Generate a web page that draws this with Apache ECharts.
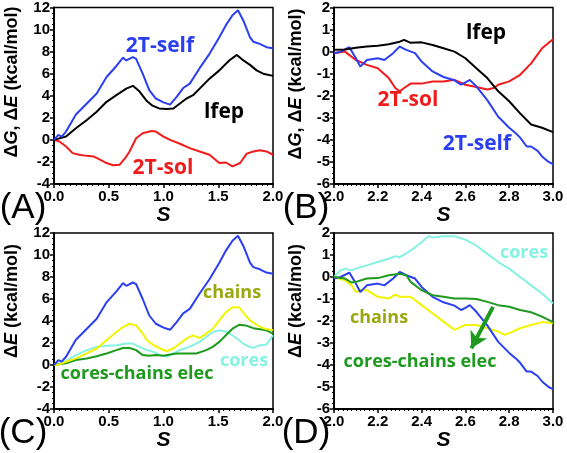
<!DOCTYPE html>
<html><head><meta charset="utf-8">
<script src="https://cdn.jsdelivr.net/npm/echarts@6/dist/echarts.min.js"></script>
<style>html,body{margin:0;padding:0;background:#fff}#c{width:567px;height:453px}</style>
</head><body><div id="c"></div>
<script>
// ---------- DATA ----------
// Panel A / C : s from 0 to 2
var sSelfA = [0,0.04,0.07,0.11,0.2,0.3,0.39,0.48,0.57,0.63,0.66,0.72,0.75,0.81,0.87,0.93,1.0,1.06,1.12,1.18,1.24,1.33,1.42,1.51,1.57,1.63,1.68,1.73,1.79,1.82,1.88,1.94,2.0];
var vSelfA = [0,0.45,0.3,0.75,2.3,3.3,4.2,5.7,6.7,7.45,7.2,7.5,7.35,6.0,4.5,3.75,3.4,3.2,3.9,4.7,5.1,6.5,7.8,9.3,10.4,11.3,11.75,10.8,9.3,8.9,8.7,8.4,8.3];
var sLfepA = [0,0.11,0.2,0.3,0.39,0.48,0.57,0.66,0.72,0.78,0.85,0.9,0.96,1.03,1.09,1.15,1.21,1.27,1.33,1.42,1.51,1.6,1.67,1.73,1.79,1.85,1.91,2.0];
var vLfepA = [0,0.3,1.05,1.8,2.55,3.45,4.05,4.65,4.9,4.4,3.5,3.1,2.85,2.8,2.85,3.3,3.75,4.05,4.65,5.55,6.3,7.2,7.7,7.2,6.8,6.3,6.0,5.8];
var sSolA = [0,0.05,0.11,0.17,0.23,0.3,0.36,0.42,0.48,0.54,0.6,0.65,0.69,0.75,0.81,0.89,0.93,1.0,1.06,1.15,1.24,1.33,1.42,1.51,1.57,1.63,1.7,1.76,1.82,1.88,1.94,2.0];
var vSolA = [0,-0.15,-0.6,-1.2,-1.35,-1.45,-1.5,-1.8,-2.1,-2.3,-2.25,-1.65,-1.05,0.15,0.6,0.8,0.75,0.3,0,-0.35,-0.75,-1.05,-1.35,-2.1,-2.05,-2.4,-2.1,-1.25,-1.05,-0.95,-1.05,-1.35];
var sChainsC = [0,0.05,0.11,0.2,0.3,0.39,0.48,0.57,0.63,0.69,0.75,0.8,0.85,0.91,0.97,1.03,1.09,1.15,1.21,1.27,1.33,1.39,1.45,1.51,1.57,1.63,1.69,1.75,1.79,1.85,1.91,2.0];
var vChainsC = [0,0.05,0.3,0.6,1.05,1.5,2.25,3.0,3.45,3.75,3.6,3.0,2.25,1.8,1.5,1.25,1.5,1.95,2.4,2.7,2.45,2.85,3.3,4.05,4.8,5.25,5.25,4.5,4.05,3.65,3.35,3.15];
var sCoresC = [0,0.05,0.11,0.2,0.3,0.39,0.48,0.57,0.66,0.72,0.78,0.85,0.91,0.97,1.03,1.09,1.15,1.21,1.27,1.33,1.39,1.45,1.51,1.57,1.63,1.69,1.75,1.82,1.88,1.94,2.0];
var vCoresC = [0,0.15,0.35,0.9,1.35,1.65,1.75,1.8,1.95,1.95,1.65,1.35,1.2,0.9,0.75,1.05,1.35,1.55,1.8,2.1,2.55,3.0,3.15,3.05,2.7,2.25,1.8,1.55,1.8,1.85,2.7];
var sElecC = [0,0.11,0.2,0.3,0.39,0.48,0.57,0.63,0.69,0.75,0.81,0.87,0.93,1.0,1.06,1.12,1.21,1.3,1.39,1.45,1.51,1.57,1.63,1.69,1.75,1.82,1.88,1.94,2.0];
var vElecC = [0,0.15,0.45,0.6,0.8,1.05,1.35,1.55,1.55,1.35,0.9,0.85,0.9,0.85,0.95,1.05,1.05,1.05,1.35,1.65,2.1,2.7,3.3,3.65,3.6,3.35,3.25,3.15,2.85];
// Panel B / D : s from 2 to 3
var sLfepB = [2.0,2.05,2.1,2.15,2.2,2.25,2.3,2.32,2.35,2.4,2.45,2.5,2.55,2.6,2.65,2.7,2.75,2.8,2.85,2.9,2.95,3.0];
var vLfepB = [0.08,0.1,0.18,0.23,0.27,0.33,0.45,0.53,0.4,0.42,0.3,0.15,0,-0.3,-0.75,-1.2,-1.8,-2.25,-2.8,-3.3,-3.45,-3.65];
var sSelfB = [2.0,2.03,2.07,2.1,2.12,2.15,2.2,2.23,2.27,2.3,2.33,2.37,2.4,2.45,2.5,2.55,2.58,2.6,2.62,2.65,2.7,2.75,2.8,2.83,2.85,2.88,2.9,2.93,2.95,2.98,3.0];
var vSelfB = [-0.07,0,0.2,-0.3,-0.68,-0.38,-0.3,-0.38,-0.07,0.23,0.08,-0.07,-0.45,-0.9,-1.15,-1.3,-1.5,-1.4,-1.28,-1.58,-2.2,-2.95,-3.45,-3.7,-3.9,-4.3,-4.3,-4.5,-4.75,-5.0,-5.1];
var sSolB = [2.0,2.05,2.1,2.15,2.2,2.25,2.28,2.3,2.32,2.35,2.4,2.45,2.5,2.55,2.6,2.65,2.7,2.73,2.75,2.8,2.85,2.9,2.95,3.0];
var vSolB = [-0.07,0,-0.38,-0.6,-0.75,-1.2,-1.65,-1.8,-1.65,-1.45,-1.45,-1.35,-1.35,-1.28,-1.5,-1.6,-1.72,-1.65,-1.5,-1.35,-1.05,-0.53,0.15,0.56];
var sCoresD = [2.0,2.03,2.05,2.08,2.1,2.15,2.2,2.25,2.28,2.3,2.35,2.4,2.43,2.45,2.5,2.55,2.6,2.65,2.7,2.75,2.8,2.85,2.9,2.95,3.0];
var vCoresD = [0,0.3,0.38,0.3,0.38,0.53,0.68,0.83,0.95,0.9,1.2,1.58,1.85,1.8,1.85,1.85,1.7,1.43,1.05,0.68,0.38,0,-0.38,-0.75,-1.2];
var sElecD = [2.0,2.05,2.08,2.1,2.15,2.2,2.25,2.3,2.33,2.35,2.4,2.45,2.5,2.55,2.6,2.65,2.7,2.75,2.8,2.85,2.9,2.95,3.0];
var vElecD = [0,-0.07,-0.25,-0.22,-0.07,-0.05,0.08,0.15,0.08,-0.22,-0.6,-0.83,-0.9,-0.98,-0.98,-1.0,-1.13,-1.28,-1.35,-1.5,-1.6,-1.8,-2.05];
var sChainsD = [2.0,2.05,2.08,2.1,2.12,2.15,2.2,2.25,2.28,2.3,2.35,2.4,2.45,2.5,2.55,2.6,2.65,2.7,2.75,2.78,2.8,2.85,2.9,2.95,3.0];
var vChainsD = [0,-0.15,-0.38,-0.68,-0.6,-0.6,-0.9,-0.98,-0.8,-0.9,-0.9,-1.28,-1.65,-2.03,-2.4,-2.18,-2.18,-2.33,-2.48,-2.63,-2.55,-2.33,-2.18,-2.05,-2.1];
var arrowD = [[2.726,-1.36],[2.627,-3.24]];
// axis tick settings
var xRangeL = [0,2], xRangeR = [2,3];
var yRangeL = [-4,12], yRangeR = [-6,2];

// ---------- CHART ----------
var C = {blue:'#2b3ff0', red:'#f01c1c', black:'#000000', yellow:'#f4f400', cyan:'#85f2e2', green:'#1e9a1e', olive:'#9aa80e'};
function pairs(s,v){return s.map(function(x,i){return [x,v[i]];});}
var grids = [
  {left:54, top:7, width:219, height:177},
  {left:334, top:7, width:219, height:177},
  {left:54, top:233, width:219, height:176},
  {left:334, top:233, width:219, height:176}
];
grids.forEach(function(g){g.show=true;g.borderColor='#000';g.borderWidth=1.5;g.backgroundColor='transparent';});
var lblFont = {fontFamily:'Liberation Sans, Arial, sans-serif', fontWeight:'bold', fontSize:15, color:'#000'};
function xAx(i, r, iv){
  return {gridIndex:i, type:'value', min:r[0], max:r[1], interval:iv,
    name:'S', nameLocation:'middle', nameGap:20,
    nameTextStyle:{fontFamily:'Liberation Sans, Arial, sans-serif', fontWeight:'bold', fontStyle:'italic', fontSize:21, color:'#000'},
    axisLine:{show:true, onZero:false, lineStyle:{color:'#000', width:2}},
    axisTick:{show:true, length:4, inside:false, lineStyle:{color:'#000', width:1.5}},
    minorTick:{show:true, splitNumber:10, length:2, lineStyle:{color:'#000', width:1}},
    splitLine:{show:false}, minorSplitLine:{show:false},
    axisLabel:Object.assign({margin:5, formatter:function(v){return v.toFixed(1);}}, lblFont)};
}
function yAx(i, r, iv){
  return {gridIndex:i, type:'value', min:r[0], max:r[1], interval:iv,
    axisLine:{show:true, onZero:false, lineStyle:{color:'#000', width:2}},
    axisTick:{show:true, length:4, inside:false, lineStyle:{color:'#000', width:1.5}},
    minorTick:{show:true, splitNumber:4, length:2, lineStyle:{color:'#000', width:1}},
    splitLine:{show:false}, minorSplitLine:{show:false},
    axisLabel:Object.assign({margin:4}, lblFont)};
}
function line(i, s, v, color, z){
  return {type:'line', xAxisIndex:i, yAxisIndex:i, data:pairs(s,v), showSymbol:false, symbol:'none',
    lineStyle:{color:color, width:2}, itemStyle:{color:color}, z:z||2, animation:false, clip:true};
}
var series = [
  line(0, sSolA, vSolA, C.red),
  line(0, sLfepA, vLfepA, C.black),
  line(0, sSelfA, vSelfA, C.blue, 3),
  line(1, sSolB, vSolB, C.red),
  line(1, sSelfB, vSelfB, C.blue),
  line(1, sLfepB, vLfepB, C.black, 3),
  line(2, sCoresC, vCoresC, C.cyan),
  line(2, sElecC, vElecC, C.green),
  line(2, sChainsC, vChainsC, C.yellow),
  line(2, sSelfA, vSelfA, C.blue, 3),
  line(3, sCoresD, vCoresD, C.cyan),
  line(3, sChainsD, vChainsD, C.yellow),
  line(3, sSelfB, vSelfB, C.blue),
  line(3, sElecD, vElecD, C.green, 3)
];
series[13].markLine = {silent:true, symbol:['none','arrow'], symbolSize:[14,16], animation:false,
  label:{show:false}, lineStyle:{color:C.green, width:4, type:'solid'},
  data:[[{coord:arrowD[0]},{coord:arrowD[1]}]]};

var F = 'Open Sans, Liberation Sans, Arial, sans-serif';
function txt(x,y,t,color,size){
  return {type:'text', x:x, y:y, z:100, style:{text:t, fill:color, font:'bold '+size+'px '+F, align:'center', verticalAlign:'middle'}};
}
function ytitle(x,y,t){
  return {type:'text', x:x, y:y, rotation:Math.PI/2, z:100,
    style:{text:t, fill:'#000', align:'center', verticalAlign:'middle',
      fontFamily:'Liberation Sans, Arial, sans-serif', fontWeight:'bold', fontSize:18,
      rich:{i:{fontFamily:'Liberation Sans, Arial, sans-serif', fontWeight:'bold', fontStyle:'italic', fontSize:18, fill:'#000'},
            n:{fontFamily:'Liberation Sans, Arial, sans-serif', fontWeight:'bold', fontSize:18, fill:'#000'}}}};
}
function plabel(x,y,t){
  return {type:'text', x:x, y:y, z:100, style:{text:t, fill:'#000', font:'35px Liberation Sans, Arial, sans-serif', align:'center', verticalAlign:'middle'}};
}
var graphic = [
  txt(160,46,'2T-self',C.blue,21), txt(224,112,'lfep',C.black,21), txt(163,168,'2T-sol',C.red,21),
  txt(486,33,'lfep',C.black,21), txt(408,100,'2T-sol',C.red,21), txt(477,144,'2T-self',C.blue,21),
  txt(232,293,'chains',C.olive,18), txt(244,361,'cores',C.cyan,18), txt(137,374,'cores-chains elec',C.green,18),
  txt(524,253,'cores',C.cyan,18), txt(379,318,'chains',C.olive,18), txt(420,362,'cores-chains elec',C.green,18),
  ytitle(12,82,'{n|Δ}{i|G}{n|, Δ}{i|E}{n| (kcal/mol)}'), ytitle(296,84,'{n|Δ}{i|G}{n|, Δ}{i|E}{n| (kcal/mol)}'),
  ytitle(12,301,'{n|Δ}{i|E}{n| (kcal/mol)}'), ytitle(296,301,'{n|Δ}{i|E}{n| (kcal/mol)}'),
  plabel(23,208,'(A)'), plabel(306,208,'(B)'), plabel(23,433,'(C)'), plabel(306,433,'(D)')
];
var chart = echarts.init(document.getElementById('c'), null, {renderer:'canvas'});
chart.setOption({
  animation:false, backgroundColor:'#fff',
  grid:grids,
  xAxis:[xAx(0,xRangeL,0.5), xAx(1,xRangeR,0.2), xAx(2,xRangeL,0.5), xAx(3,xRangeR,0.2)],
  yAxis:[yAx(0,yRangeL,2), yAx(1,yRangeR,1), yAx(2,yRangeL,2), yAx(3,yRangeR,1)],
  series:series,
  graphic:graphic
});
</script></body></html>
